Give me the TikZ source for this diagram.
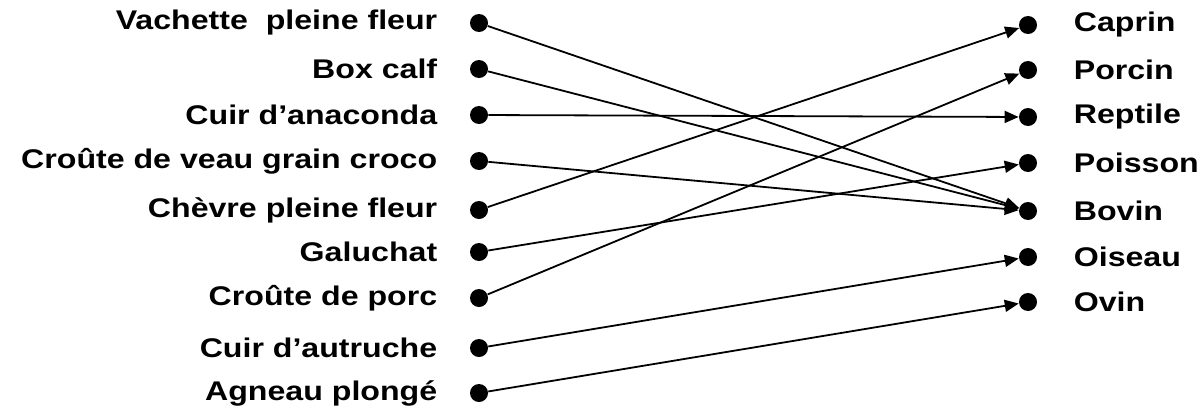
\documentclass[tikz,border=0pt]{standalone}
\usepackage{fontspec}
\setmainfont{Liberation Sans}
\newfontfamily\widefont[FakeStretch=1.19]{Liberation Sans}
\usetikzlibrary{positioning,arrows.meta}
\begin{document}
\begin{tikzpicture}[x=0.5pt,y=-0.5pt]
    \tikzstyle{dot} = [circle, fill, inner sep=0pt, minimum size=9pt]
    \tikzstyle{word} = [inner sep=0pt, font=\widefont\fontsize{13.5}{16}\selectfont\bfseries]
    \tikzstyle{link} = [line width=0.9pt, -{Triangle[length=7pt, width=6pt]}]
    \useasboundingbox (0,0) rectangle (1202,412);
    % leather types
    \foreach \name/\y/\txt in {l1/23/Vachette\ \ pleine fleur, l2/69/Box calf,
        l3/115/Cuir d’anaconda, l4/161/Croûte de veau grain croco,
        l5/210/Chèvre pleine fleur, l6/252/Galuchat, l7/298/Croûte de porc,
        l8/348/Cuir d’autruche, l9/393/Agneau plongé} {
        \node[dot] (\name) at (479, \y) {};
        \node[word, left=16pt of \name] {\txt};
    }
    % animals
    \foreach \name/\y/\txt in {r1/25/Caprin, r2/70/Porcin, r3/117/Reptile,
        r4/163/Poisson, r5/211/Bovin, r6/257/Oiseau, r7/302/Ovin} {
        \node[dot] (\name) at (1028, \y) {};
        \node[word, right=18pt of \name] {\txt};
    }
    \draw[link] (l1) -- (r5);
    \draw[link] (l2) -- (r5);
    \draw[link] (l3) -- (r3);
    \draw[link] (l4) -- (r5);
    \draw[link] (l5) -- (r1);
    \draw[link] (l6) -- (r4);
    \draw[link] (l7) -- (r2);
    \draw[link] (l8) -- (r6);
    \draw[link] (l9) -- (r7);
\end{tikzpicture}
\end{document}
